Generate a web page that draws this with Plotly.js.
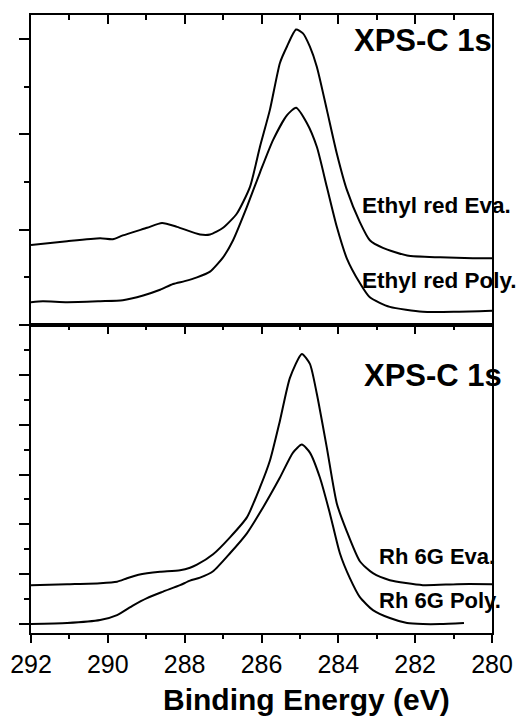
<!DOCTYPE html>
<html>
<head>
<meta charset="utf-8">
<script src="https://cdn.plot.ly/plotly-3.0.1.min.js"></script>
<style>html,body{margin:0;padding:0;background:#fff;}</style>
</head>
<body>
<div id="chart" style="width:524px;height:724px;"></div>
<script>
// Top panel: Ethyl red (binding energy in eV, intensity in a.u.)
var ethylEvaE = [292.0, 291.06, 290.20, 289.87, 289.61, 288.98, 288.59, 288.20, 287.60, 287.34, 287.00, 286.64, 286.30, 286.04, 285.78, 285.52, 285.34, 285.10, 284.92, 284.74, 284.56, 284.30, 284.04, 283.78, 283.44, 283.18, 282.84, 282.21, 281.35, 280.50, 280.0];
var ethylEvaI = [0.84, 0.88, 0.91, 0.90, 0.94, 1.02, 1.07, 1.03, 0.95, 0.95, 1.02, 1.17, 1.45, 1.87, 2.26, 2.75, 2.92, 3.10, 3.06, 2.92, 2.71, 2.26, 1.80, 1.42, 1.08, 0.89, 0.81, 0.73, 0.71, 0.70, 0.70];
var ethylPolyE = [292.0, 291.69, 291.06, 290.20, 289.61, 289.08, 288.64, 288.30, 288.00, 287.68, 287.34, 287.00, 286.74, 286.38, 286.04, 285.70, 285.34, 285.10, 284.82, 284.56, 284.30, 284.04, 283.78, 283.44, 283.18, 282.66, 281.80, 280.91, 280.0];
var ethylPolyI = [0.24, 0.25, 0.24, 0.25, 0.26, 0.31, 0.37, 0.43, 0.46, 0.50, 0.56, 0.71, 0.89, 1.24, 1.60, 1.94, 2.20, 2.28, 2.12, 1.87, 1.45, 1.03, 0.70, 0.44, 0.29, 0.19, 0.14, 0.14, 0.15];
// Bottom panel: Rh 6G
var rhEvaE = [292.0, 291.06, 290.20, 289.76, 289.50, 289.20, 288.98, 288.64, 288.12, 287.86, 287.68, 287.26, 286.82, 286.38, 286.04, 285.78, 285.52, 285.26, 284.95, 284.74, 284.56, 284.30, 284.04, 283.78, 283.44, 283.10, 282.66, 281.80, 280.91, 280.0];
var rhEvaI = [0.78, 0.80, 0.82, 0.85, 0.92, 0.99, 1.02, 1.05, 1.08, 1.13, 1.19, 1.40, 1.74, 2.14, 2.74, 3.28, 4.08, 4.94, 5.42, 5.22, 4.62, 3.54, 2.42, 1.86, 1.26, 1.02, 0.88, 0.78, 0.80, 0.80];
var rhPolyE = [292.0, 291.06, 290.20, 289.76, 289.35, 288.98, 288.56, 288.12, 287.86, 287.60, 287.26, 286.82, 286.38, 285.96, 285.52, 285.18, 284.95, 284.74, 284.48, 284.22, 283.96, 283.70, 283.44, 283.10, 282.66, 282.21, 281.80, 281.35, 280.73];
var rhPolyI = [0.00, 0.02, 0.08, 0.18, 0.37, 0.52, 0.65, 0.78, 0.87, 0.93, 1.06, 1.42, 1.82, 2.34, 2.94, 3.44, 3.60, 3.44, 2.94, 2.22, 1.42, 0.92, 0.54, 0.28, 0.12, 0.02, 0.00, 0.00, 0.02];

var seriesNames = ['Ethyl red Eva.', 'Ethyl red Poly.', 'Rh 6G Eva.', 'Rh 6G Poly.'];
var panelTitle = 'XPS-C 1s';
var xTitle = 'Binding Energy (eV)';

var FONT = 'Liberation Sans, Arial, Helvetica, sans-serif';
var lineStyle = {color: '#000', width: 2, shape: 'spline', smoothing: 0.6};

function tr(x, y, name, xa, ya) {
  return {x: x, y: y, name: name, type: 'scatter', mode: 'lines', line: lineStyle,
          xaxis: xa, yaxis: ya, showlegend: false, hoverinfo: 'skip'};
}

var data = [
  tr(ethylEvaE, ethylEvaI, seriesNames[0], 'x2', 'y2'),
  tr(ethylPolyE, ethylPolyI, seriesNames[1], 'x2', 'y2'),
  tr(rhEvaE, rhEvaI, seriesNames[2], 'x', 'y'),
  tr(rhPolyE, rhPolyI, seriesNames[3], 'x', 'y'),
  {x: [], y: [], type: 'scatter', xaxis: 'x3', yaxis: 'y', showlegend: false}
];

var split = 308 / 618;
var xRange = [292, 280];

function xBase(extra) {
  var o = {range: xRange, showgrid: false, zeroline: false, showline: true,
           linecolor: '#000', linewidth: 2, tickcolor: '#000', tickwidth: 2,
           dtick: 2, tick0: 280, fixedrange: true};
  for (var k in extra) o[k] = extra[k];
  return o;
}
function yBase(extra) {
  var o = {showgrid: false, zeroline: false, showline: true, mirror: true,
           linecolor: '#000', linewidth: 2, ticks: 'outside', ticklen: 10,
           tickwidth: 2, tickcolor: '#000', dtick: 1, tick0: 0,
           showticklabels: false, fixedrange: true,
           minor: {dtick: 0.5, tick0: 0, ticks: 'outside', ticklen: 5, tickwidth: 2, tickcolor: '#000'}};
  for (var k in extra) o[k] = extra[k];
  return o;
}

var annFont = function (s) { return {family: FONT, size: s, color: '#000'}; };
function ann(text, x, y, size, xanchor) {
  return {text: '<b>' + text + '</b>', xref: 'paper', yref: 'paper', x: x, y: y,
          xanchor: xanchor || 'left', yanchor: 'middle', showarrow: false, font: annFont(size)};
}

var layout = {
  width: 524, height: 724,
  margin: {l: 31, r: 32, t: 15, b: 91},
  paper_bgcolor: '#fff', plot_bgcolor: '#fff',
  showlegend: false,
  xaxis: xBase({anchor: 'y', ticks: 'outside', ticklen: 8,
    minor: {dtick: 1, tick0: 280, ticks: 'outside', ticklen: 4, tickwidth: 2, tickcolor: '#000'},
    tickfont: {family: FONT, size: 25, color: '#000'}}),
  xaxis2: xBase({anchor: 'y2', side: 'top', ticks: 'inside', ticklen: 9, mirror: true,
    showticklabels: false,
    minor: {dtick: 1, tick0: 280, ticks: 'inside', ticklen: 5, tickwidth: 2, tickcolor: '#000'}}),
  xaxis3: xBase({anchor: 'y', overlaying: 'x', side: 'top', ticks: 'inside', ticklen: 9,
    showticklabels: false,
    minor: {dtick: 1, tick0: 280, ticks: 'inside', ticklen: 5, tickwidth: 2, tickcolor: '#000'}}),
  yaxis: yBase({domain: [0, split], range: [-0.18, 6.0]}),
  yaxis2: yBase({domain: [split, 1], range: [0, 3.253]}),
  annotations: [
    ann(panelTitle, 0.697, 0.958, 31),
    ann(seriesNames[0], 0.714, 0.691, 22.5),
    ann(seriesNames[1], 0.714, 0.571, 22.5),
    ann(panelTitle, 0.718, 0.416, 31),
    ann(seriesNames[2], 0.751, 0.123, 22),
    ann(seriesNames[3], 0.751, 0.053, 22),
    ann(xTitle, 0.597, -0.108, 30, 'center')
  ]
};

Plotly.newPlot('chart', data, layout, {displayModeBar: false, staticPlot: true});
</script>
</body>
</html>
